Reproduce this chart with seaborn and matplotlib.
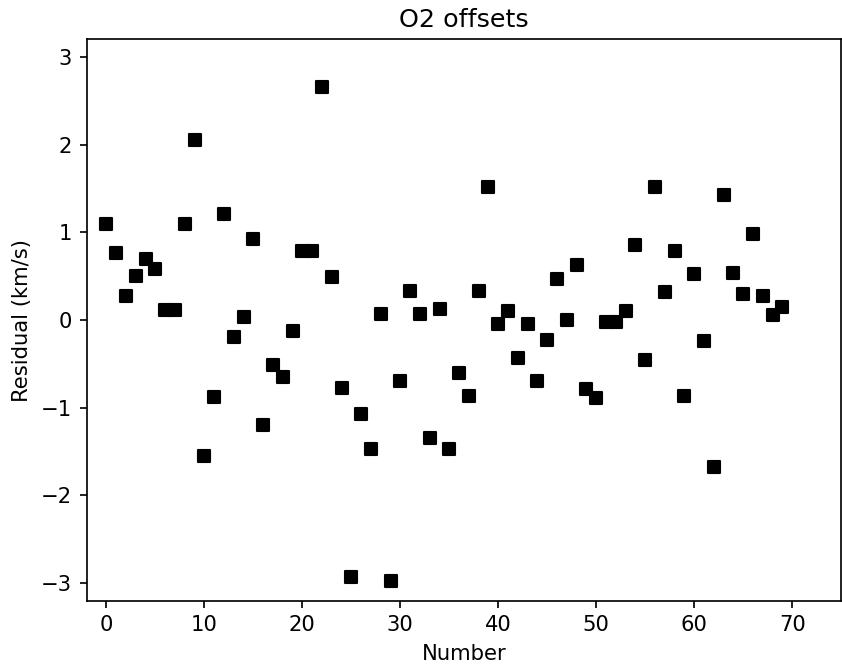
import matplotlib
matplotlib.use("Agg")
import matplotlib.pyplot as plt
import seaborn as sns
import numpy as np
import pandas as pd

numbers = list(range(70))
residuals = [
    1.09, 0.76, 0.27, 0.50, 0.70, 0.58, 0.11, 0.11, 1.09, 2.05,
    -1.55, -0.88, 1.21, -0.19, 0.03, 0.92, -1.20, -0.51, -0.65, -0.13,
    0.79, 0.79, 2.66, 0.49, -0.77, -2.93, -1.07, -1.47, 0.07, -2.97,
    -0.70, 0.33, 0.07, -1.34, 0.13, -1.47, -0.60, -0.87, 0.33, 1.52,
    -0.04, 0.10, -0.43, -0.04, -0.70, -0.23, 0.47, 0.00, 0.63, -0.79,
    -0.89, -0.02, -0.02, 0.10, 0.85, -0.46, 1.52, 0.32, 0.79, -0.87,
    0.52, -0.24, -1.68, 1.42, 0.54, 0.30, 0.98, 0.27, 0.06, 0.15,
]

df = pd.DataFrame({"Number": numbers, "Residual": residuals})

dpi = 152
fig = plt.figure(figsize=(842 / dpi, 668 / dpi), dpi=dpi)
ax = fig.add_axes([86.7 / 842, 1 - 600.7 / 668, (841.3 - 86.7) / 842, (600.7 - 39.3) / 668])

sns.scatterplot(data=df, x="Number", y="Residual", marker="s", color="black",
                edgecolor="black", linewidth=1.0, s=36, ax=ax, legend=False)

ax.set_xlim(-2, 75)
ax.set_ylim(-3.2, 3.2)
ax.set_title("O2 offsets")
ax.set_xlabel("Number")
ax.set_ylabel("Residual (km/s)")

fig.savefig("out.png", dpi=dpi)
